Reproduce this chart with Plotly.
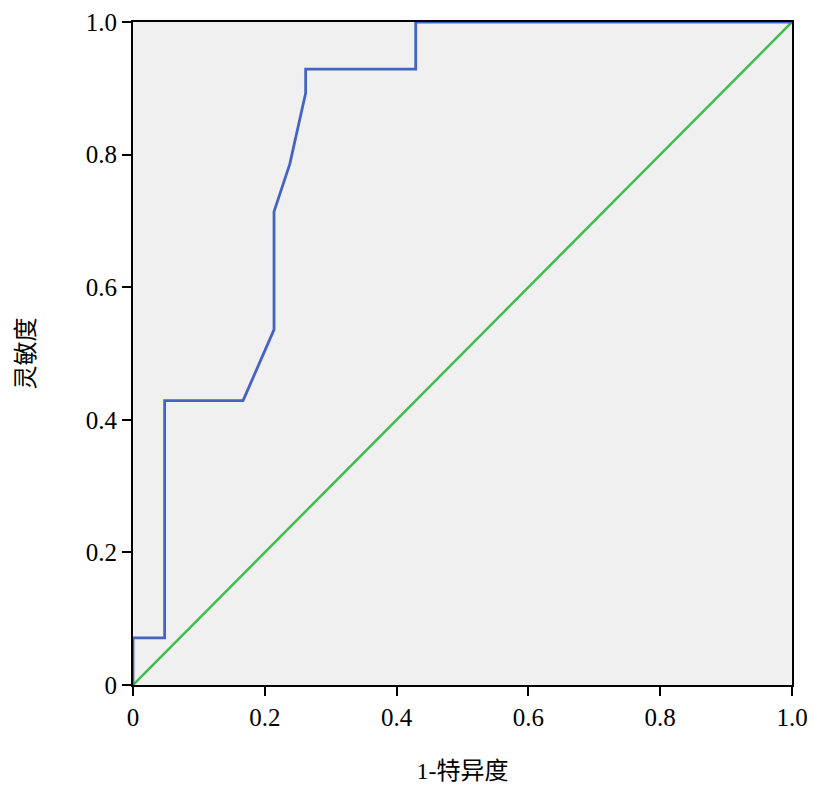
import plotly.graph_objects as go

fpr = [0, 0, 0.048, 0.048, 0.167, 0.214, 0.214, 0.238, 0.262, 0.262, 0.429, 0.429, 1.0]
tpr = [0, 0.071, 0.071, 0.429, 0.429, 0.536, 0.714, 0.786, 0.893, 0.929, 0.929, 1.0, 1.0]
ref_x = [0, 1]
ref_y = [0, 1]
tick_vals = [0, 0.2, 0.4, 0.6, 0.8, 1.0]
tick_text = ["0", "0.2", "0.4", "0.6", "0.8", "1.0"]

fig = go.Figure()
fig.add_trace(go.Scatter(x=ref_x, y=ref_y, mode="lines",
                         line=dict(color="#3DBE4A", width=2.5), showlegend=False))
fig.add_trace(go.Scatter(x=fpr, y=tpr, mode="lines",
                         line=dict(color="#4563C2", width=2.8), showlegend=False))

font_fam = "Liberation Serif, Noto Sans CJK SC"
axis_common = dict(
    range=[0, 1], tickvals=tick_vals, ticktext=tick_text, automargin=False,
    showgrid=False, zeroline=False, showline=True, linecolor="black", linewidth=2,
    mirror=True, ticks="outside", ticklen=9, tickwidth=2, tickcolor="black",
    tickfont=dict(family=font_fam, size=25, color="black"),
)
fig.update_xaxes(**axis_common,
                 title=dict(text="1-特异度", font=dict(family=font_fam, size=24, color="black"), standoff=32))
fig.update_yaxes(**axis_common,
                 title=dict(text="灵敏度", font=dict(family=font_fam, size=24, color="black"), standoff=44))
fig.update_layout(
    width=827, height=809,
    margin=dict(l=125, r=43, t=14, b=132),
    plot_bgcolor="#F0F0F0", paper_bgcolor="white",
)
fig.write_html("out.html")
